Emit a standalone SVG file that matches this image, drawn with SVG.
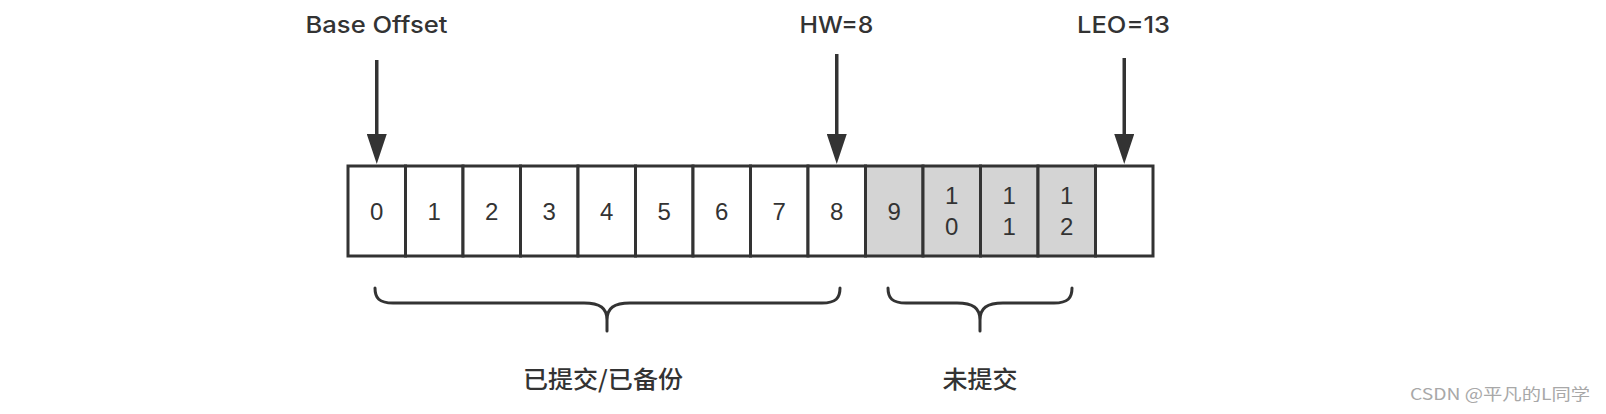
<svg xmlns="http://www.w3.org/2000/svg" width="1606" height="414" viewBox="0 0 1606 414">
<style>
.cell{stroke:#333;stroke-width:3;fill:#fff}
.cell.pending{fill:#d4d4d4}
.num{font-family:"Liberation Sans",Arial,sans-serif;font-size:24px;fill:#333;text-anchor:middle}
.ptr{font-family:Inter,"Liberation Sans",sans-serif;font-weight:500;font-size:23px;fill:#333;text-anchor:middle}
.cjk{font-family:"Noto Sans CJK SC",sans-serif;font-weight:500;font-size:24px;fill:#333;text-anchor:middle}
.shaft{stroke:#333;stroke-width:3.5;fill:none}
.brace{stroke:#333;stroke-width:3;fill:none;stroke-linecap:round;stroke-linejoin:round}
.wm{font-family:"Noto Sans CJK SC",sans-serif;font-size:16px;fill:#a8a8a8}
</style>
<defs>
<marker id="head" markerUnits="userSpaceOnUse" markerWidth="30" markerHeight="20" viewBox="0 0 30 20" refX="0" refY="10" orient="auto">
<path d="M0,0 L30,10 L0,20 Z" fill="#333"/>
</marker>
</defs>
<rect width="1606" height="414" fill="#fff"/>

<g id="log">
<g id="cell-0"><rect class="cell" x="348" y="166" width="57.5" height="90"/><text class="num" x="376.75" y="220">0</text></g>
<g id="cell-1"><rect class="cell" x="405.5" y="166" width="57.5" height="90"/><text class="num" x="434.25" y="220">1</text></g>
<g id="cell-2"><rect class="cell" x="463" y="166" width="57.5" height="90"/><text class="num" x="491.75" y="220">2</text></g>
<g id="cell-3"><rect class="cell" x="520.5" y="166" width="57.5" height="90"/><text class="num" x="549.25" y="220">3</text></g>
<g id="cell-4"><rect class="cell" x="578" y="166" width="57.5" height="90"/><text class="num" x="606.75" y="220">4</text></g>
<g id="cell-5"><rect class="cell" x="635.5" y="166" width="57.5" height="90"/><text class="num" x="664.25" y="220">5</text></g>
<g id="cell-6"><rect class="cell" x="693" y="166" width="57.5" height="90"/><text class="num" x="721.75" y="220">6</text></g>
<g id="cell-7"><rect class="cell" x="750.5" y="166" width="57.5" height="90"/><text class="num" x="779.25" y="220">7</text></g>
<g id="cell-8"><rect class="cell" x="808" y="166" width="57.5" height="90"/><text class="num" x="836.75" y="220">8</text></g>
<g id="cell-9"><rect class="cell pending" x="865.5" y="166" width="57.5" height="90"/><text class="num" x="894.25" y="220">9</text></g>
<g id="cell-10"><rect class="cell pending" x="923" y="166" width="57.5" height="90"/><text class="num" x="951.75" y="204">1</text><text class="num" x="951.75" y="235">0</text></g>
<g id="cell-11"><rect class="cell pending" x="980.5" y="166" width="57.5" height="90"/><text class="num" x="1009.25" y="204">1</text><text class="num" x="1009.25" y="235">1</text></g>
<g id="cell-12"><rect class="cell pending" x="1038" y="166" width="57.5" height="90"/><text class="num" x="1066.75" y="204">1</text><text class="num" x="1066.75" y="235">2</text></g>
<g id="cell-13"><rect class="cell" x="1095.5" y="166" width="57.5" height="90"/></g>
</g>

<g id="label-base"><text class="ptr" x="376.5" y="33" textLength="142" lengthAdjust="spacingAndGlyphs">Base Offset</text></g>
<g id="label-hw"><text class="ptr" x="836.5" y="33" textLength="74" lengthAdjust="spacingAndGlyphs">HW=8</text></g>
<g id="label-leo"><text class="ptr" x="1123.5" y="33" textLength="93" lengthAdjust="spacingAndGlyphs">LEO=13</text></g>

<g id="connectors">
<line class="shaft" x1="376.75" y1="60" x2="376.75" y2="134" marker-end="url(#head)"/>
<line class="shaft" x1="836.75" y1="54" x2="836.75" y2="134" marker-end="url(#head)"/>
<line class="shaft" x1="1124.25" y1="58" x2="1124.25" y2="134" marker-end="url(#head)"/>
</g>

<g id="brace-committed">
<path class="brace" d="M375,288 C375,298 379,303 393,303 L584,303 C600,303 607,308 607,320 L607,331 M607,320 C607,308 614,303 630,303 L822,303 C836,303 840,298 840,288"/>
<text class="cjk" x="603" y="388" textLength="160" lengthAdjust="spacingAndGlyphs">已提交/已备份</text>
</g>

<g id="brace-uncommitted">
<path class="brace" d="M888,288 C888,298 892,303 906,303 L957,303 C973,303 980,308 980,320 L980,331 M980,320 C980,308 987,303 1003,303 L1054,303 C1068,303 1072,298 1072,288"/>
<text class="cjk" x="980" y="388" textLength="75" lengthAdjust="spacingAndGlyphs">未提交</text>
</g>

<text class="wm" x="1410" y="400" textLength="180" lengthAdjust="spacingAndGlyphs">CSDN @平凡的L同学</text>
</svg>
